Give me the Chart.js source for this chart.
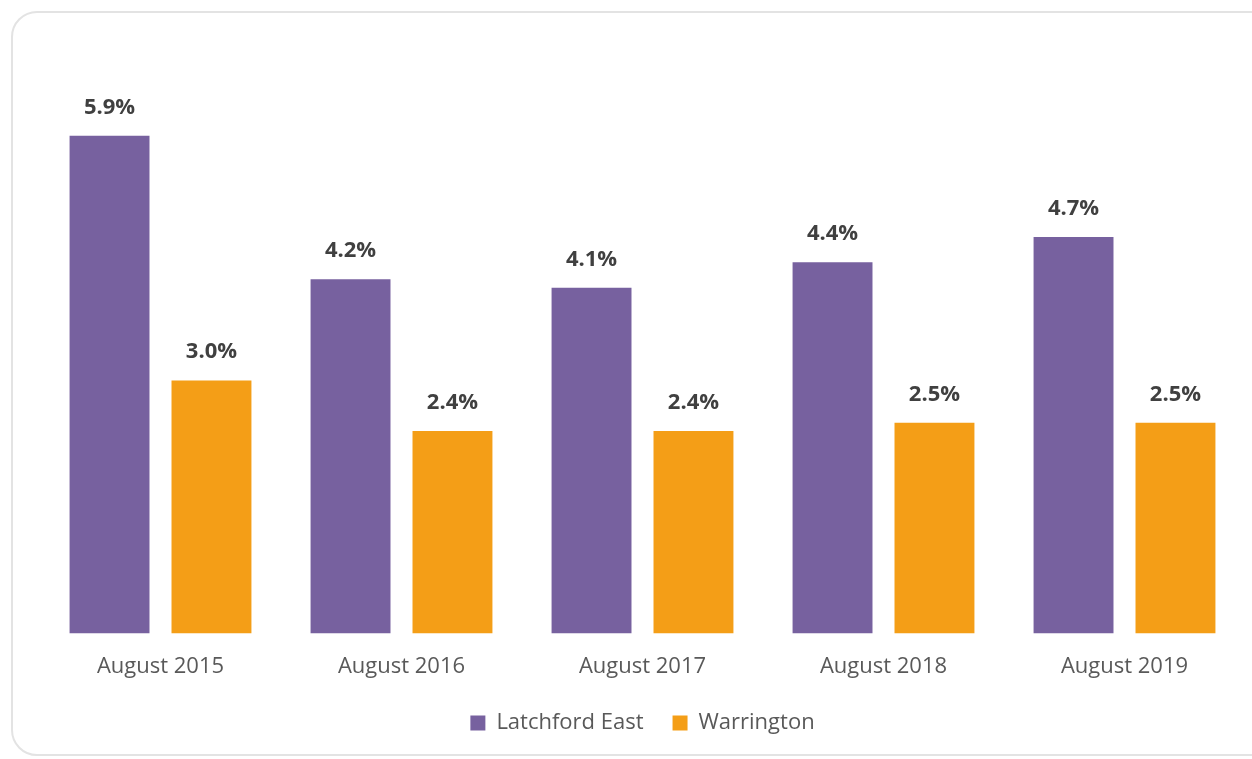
<!DOCTYPE html>
<html>
<head>
<meta charset="utf-8">
<script src="https://cdn.jsdelivr.net/npm/chart.js@4"></script>
<style>
  html, body { margin: 0; padding: 0; background: #fff; overflow: hidden; }
  #wrap { position: relative; width: 1252px; height: 759px; }
  #card {
    position: absolute; left: 11px; top: 11px; width: 1280px; height: 745px;
    border: 2px solid #e3e3e3; border-radius: 26px; box-sizing: border-box;
  }
  canvas { position: absolute; left: 0; top: 0; }
</style>
</head>
<body>
<div id="wrap">
  <div id="card"></div>
  <canvas id="chart" width="1252" height="759"></canvas>
</div>
<script>
var categories = ["August 2015", "August 2016", "August 2017", "August 2018", "August 2019"];
var latchford_east = [5.9, 4.2, 4.1, 4.4, 4.7];
var warrington = [3.0, 2.4, 2.4, 2.5, 2.5];

var fontName = "'Open Sans', 'Liberation Sans', sans-serif";

// labels above bars
const barLabels = {
    id: 'barLabels',
    afterDatasetsDraw(chart) {
        const ctx = chart.ctx;
        ctx.save();
        ctx.font = "bold 22px " + fontName;
        ctx.fillStyle = '#404040';
        ctx.textAlign = 'center';
        ctx.textBaseline = 'alphabetic';
        chart.data.datasets.forEach((ds, di) => {
            chart.getDatasetMeta(di).data.forEach((bar, i) => {
                ctx.fillText(ds.data[i].toFixed(1) + '%', bar.x, bar.y - 22);
            });
        });
        ctx.restore();
    }
};

const ctx = document.getElementById("chart").getContext("2d");
const myChart = new Chart(ctx, {
    type: "bar",
    data: {
        labels: categories,
        datasets: [{
            label: "Latchford East",
            data: latchford_east,
            backgroundColor: '#77619f',
            categoryPercentage: 0.846,
            barPercentage: 0.784,
        }, {
            label: "Warrington",
            data: warrington,
            backgroundColor: '#f49e17',
            categoryPercentage: 0.846,
            barPercentage: 0.784,
        }],
    },
    options: {
        responsive: false,
        animation: false,
        layout: {
            padding: { left: 40, right: 7, top: 43, bottom: 15 }
        },
        plugins: {
            legend: {
                position: 'bottom',
                labels: {
                    boxWidth: 15,
                    boxHeight: 15,
                    padding: 29,
                    color: '#595959',
                    font: { family: fontName, size: 22 },
                },
            },
            tooltip: { enabled: false },
        },
        scales: {
            x: {
                grid: { display: false },
                border: { display: false },
                ticks: {
                    color: '#595959',
                    padding: 12,
                    font: { family: fontName, size: 22 },
                },
                afterFit(scale) {
                    scale.height -= 9;
                },
            },
            y: {
                display: false,
                min: 0,
                max: 7,
            },
        },
    },
    plugins: [barLabels],
});
</script>
</body>
</html>
